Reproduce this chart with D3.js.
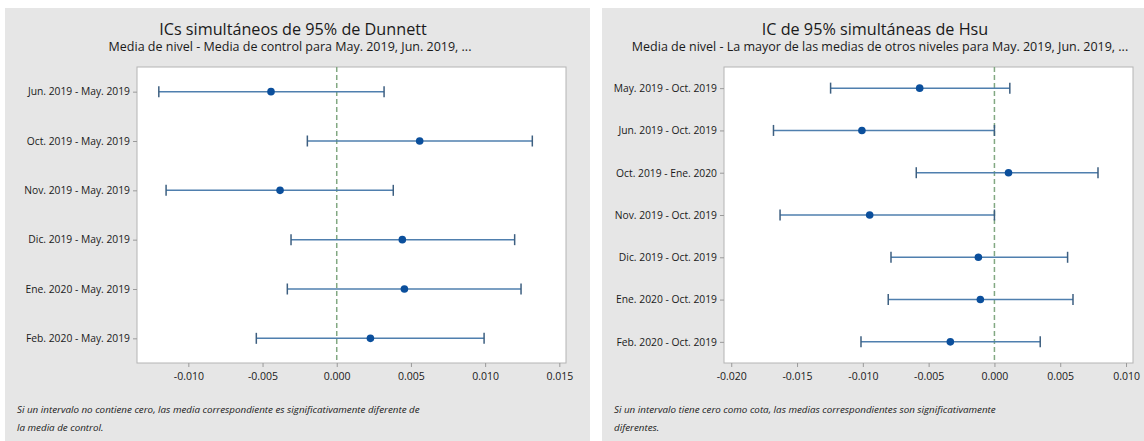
<!DOCTYPE html>
<html>
<head>
<meta charset="utf-8">
<script src="https://cdn.jsdelivr.net/npm/d3@7/dist/d3.min.js"></script>
<style>
  html, body { margin: 0; padding: 0; background: #ffffff; }
  svg { display: block; }
  text { font-family: "Open Sans", "Noto Sans", sans-serif; fill: #1a1a1a; }
</style>
</head>
<body>
<svg id="chart" width="1144" height="441"></svg>
<script>
// Dunnett: level mean minus control mean (May. 2019)
const dunnettCategories = [
  "Jun. 2019 - May. 2019",
  "Oct. 2019 - May. 2019",
  "Nov. 2019 - May. 2019",
  "Dic. 2019 - May. 2019",
  "Ene. 2020 - May. 2019",
  "Feb. 2020 - May. 2019"
];
const dunnettLower  = [-0.01199, -0.00198, -0.01150, -0.00308, -0.00333, -0.00542];
const dunnettCenter = [-0.00443,  0.00559, -0.00382,  0.00442,  0.00456,  0.00227];
const dunnettUpper  = [ 0.00319,  0.01318,  0.00381,  0.01199,  0.01242,  0.00993];
const dunnettTicks  = [-0.010, -0.005, 0.000, 0.005, 0.010, 0.015];

// Hsu: level mean minus the largest of the other level means
const hsuCategories = [
  "May. 2019 - Oct. 2019",
  "Jun. 2019 - Oct. 2019",
  "Oct. 2019 - Ene. 2020",
  "Nov. 2019 - Oct. 2019",
  "Dic. 2019 - Oct. 2019",
  "Ene. 2020 - Oct. 2019",
  "Feb. 2020 - Oct. 2019"
];
const hsuLower  = [-0.01245, -0.01679, -0.00594, -0.01629, -0.00786, -0.00807, -0.01014];
const hsuCenter = [-0.00568, -0.01007,  0.00107, -0.00948, -0.00122, -0.00107, -0.00335];
const hsuUpper  = [ 0.00117,  0.00000,  0.00787,  0.00000,  0.00556,  0.00597,  0.00348];
const hsuTicks  = [-0.020, -0.015, -0.010, -0.005, 0.000, 0.005, 0.010];

const svg = d3.select("#chart");
const fmt = d3.formatLocale({ decimal: ".", thousands: ",", grouping: [3], currency: ["", ""], minus: "-" }).format(".3f");

function drawPanel(p) {
  const g = svg.append("g");

  // panel background
  g.append("rect")
    .attr("x", p.left).attr("y", p.top)
    .attr("width", p.right - p.left).attr("height", p.bottom - p.top)
    .attr("fill", "#e6e6e6");

  const x = d3.scaleLinear().domain(p.domain).range([p.plot.x0, p.plot.x1]);
  const y = d3.scalePoint().domain(p.categories).range([p.plot.y0, p.plot.y1]).padding(0.5);

  // plot area
  g.append("rect")
    .attr("x", p.plot.x0).attr("y", p.plot.y0)
    .attr("width", p.plot.x1 - p.plot.x0).attr("height", p.plot.y1 - p.plot.y0)
    .attr("fill", "#ffffff").attr("stroke", "#b4b4b4").attr("stroke-width", 1);

  // titles
  g.append("text")
    .attr("x", p.titleX).attr("y", 35)
    .attr("text-anchor", "middle")
    .style("font-size", "16.2px")
    .text(p.title);
  g.append("text")
    .attr("x", p.subtitleX).attr("y", 51)
    .attr("text-anchor", "middle")
    .style("font-size", "12.5px")
    .text(p.subtitle);

  // x axis
  const xAxis = g.append("g")
    .attr("transform", `translate(0,${p.plot.y1})`)
    .call(d3.axisBottom(x).tickValues(p.ticks).tickFormat(fmt).tickSize(4).tickSizeOuter(0).tickPadding(6));
  xAxis.select(".domain").remove();
  xAxis.selectAll(".tick line").attr("stroke", "#9a9a9a");
  xAxis.selectAll(".tick text").style("font-size", "10.5px").attr("fill", "#1a1a1a")
    .style("font-family", "\"Open Sans\", sans-serif");

  // y axis
  const yAxis = g.append("g")
    .attr("transform", `translate(${p.plot.x0},0)`)
    .call(d3.axisLeft(y).tickSize(4).tickSizeOuter(0).tickPadding(3));
  yAxis.select(".domain").remove();
  yAxis.selectAll(".tick line").attr("stroke", "#9a9a9a");
  yAxis.selectAll(".tick text").style("font-size", "10.3px").attr("fill", "#1a1a1a")
    .style("font-family", "\"Open Sans\", sans-serif");

  // zero reference line
  g.append("line")
    .attr("x1", x(0)).attr("x2", x(0))
    .attr("y1", p.plot.y0).attr("y2", p.plot.y1)
    .attr("stroke", "#82a882").attr("stroke-width", 1.5)
    .attr("stroke-dasharray", "5,3");

  const rows = p.categories.map((c, i) => ({ c, lo: p.lower[i], mid: p.center[i], hi: p.upper[i] }));
  const capH = 5.5;

  const bars = g.append("g").selectAll("g").data(rows).join("g");
  bars.append("line")
    .attr("x1", d => x(d.lo)).attr("x2", d => x(d.hi))
    .attr("y1", d => y(d.c)).attr("y2", d => y(d.c))
    .attr("stroke", "#4f7fae").attr("stroke-width", 1.5);
  bars.append("line")
    .attr("x1", d => x(d.lo)).attr("x2", d => x(d.lo))
    .attr("y1", d => y(d.c) - capH).attr("y2", d => y(d.c) + capH)
    .attr("stroke", "#3d5f80").attr("stroke-width", 1.5);
  bars.append("line")
    .attr("x1", d => x(d.hi)).attr("x2", d => x(d.hi))
    .attr("y1", d => y(d.c) - capH).attr("y2", d => y(d.c) + capH)
    .attr("stroke", "#3d5f80").attr("stroke-width", 1.5);
  bars.append("circle")
    .attr("cx", d => x(d.mid)).attr("cy", d => y(d.c))
    .attr("r", 3.8)
    .attr("fill", "#0b4f9c");

  // footnote
  const note = g.append("text")
    .style("font-size", "9.8px").style("font-style", "italic").attr("fill", "#262626");
  note.append("tspan").attr("x", p.left + 12).attr("y", 413).text(p.note[0]);
  note.append("tspan").attr("x", p.left + 12).attr("y", 431).text(p.note[1]);
}

drawPanel({
  left: 5, right: 590, top: 8, bottom: 441,
  plot: { x0: 137, x1: 566, y0: 67, y1: 363 },
  domain: [-0.01346, 0.01545],
  titleX: 293, subtitleX: 290,
  title: "ICs simultáneos de 95% de Dunnett",
  subtitle: "Media de nivel - Media de control para May. 2019, Jun. 2019, ...",
  categories: dunnettCategories,
  lower: dunnettLower, center: dunnettCenter, upper: dunnettUpper,
  ticks: dunnettTicks,
  note: [
    "Si un intervalo no contiene cero, las media correspondiente es significativamente diferente de",
    "la media de control."
  ]
});

drawPanel({
  left: 602, right: 1144, top: 8, bottom: 441,
  plot: { x0: 724, x1: 1133, y0: 67, y1: 363 },
  domain: [-0.02055, 0.01053],
  titleX: 875, subtitleX: 880,
  title: "IC de 95% simultáneas de Hsu",
  subtitle: "Media de nivel - La mayor de las medias de otros niveles para May. 2019, Jun. 2019, ...",
  categories: hsuCategories,
  lower: hsuLower, center: hsuCenter, upper: hsuUpper,
  ticks: hsuTicks,
  note: [
    "Si un intervalo tiene cero como cota, las medias correspondientes son significativamente",
    "diferentes."
  ]
});
</script>
</body>
</html>
